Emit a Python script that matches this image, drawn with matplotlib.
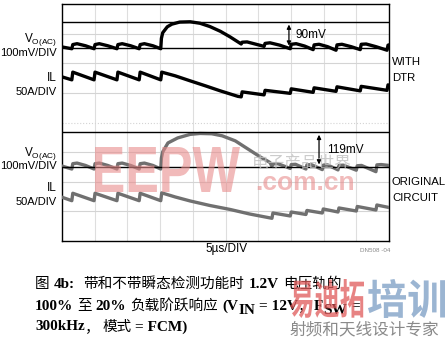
import matplotlib
matplotlib.use('Agg')
import matplotlib.pyplot as plt
from matplotlib.textpath import TextPath
from matplotlib.patches import PathPatch
from matplotlib.font_manager import FontProperties
from matplotlib.transforms import Affine2D

plt.rcParams['mathtext.fontset'] = 'custom'
plt.rcParams['mathtext.rm'] = 'Liberation Sans'

# time axis in us (5us/DIV, 10 DIV)
# Vo(AC) in mV (100mV/DIV), IL in A (50A/DIV)

# --- WITH DTR ---
vo_dtr_t = [0, 1.5, 1.65, 2.3, 3.6, 4.9, 5.05, 5.7, 7.0, 8.4, 8.55, 9.2, 10.5, 11.8, 11.95, 12.6, 13.9, 15.1,
            15.2, 15.4, 16.1, 16.8, 18.0, 19.6, 21.1, 22.6, 24.2, 25.7, 27.4,
            27.55, 28.3, 30.9, 31.05, 31.8, 33.3, 34.9, 35.05, 35.8, 37.1, 38.4, 38.55, 39.3, 40.6,
            41.9, 42.05, 42.8, 44.2, 45.6, 45.75, 46.5, 48.0, 49.7, 49.85, 50]
vo_dtr_mv = [5, -1, 13, 16, 9, -1, 13, 16, 9, -1, 13, 16, 9, -1, 13, 16, 9, -1,
             34, 53, 73, 82, 89, 90, 85, 74, 58, 39, 15,
             21, 22, 7, 17, 19, 11, -1, 14, 16, 8, -4, 12, 14, 6,
             -6, 12, 14, 6, -4, 14, 15, 6, -6, 11, 12]

il_dtr_t = [0, 1.5, 1.65, 4.9, 5.05, 8.4, 8.55, 11.8, 11.95, 15.1, 15.25,
            17.3, 19.6, 21.9, 24.2, 26.9, 27.4, 27.55, 30.9, 31.05, 34.9, 35.05,
            38.4, 38.55, 41.9, 42.05, 45.6, 45.75, 49.7, 49.85, 50]
il_dtr_a = [5, 0, 13, 0, 13, 0, 13, 0, 13, 0, 13,
            6.8, -1.7, -10, -18.6, -27.9, -28.7, -20.3, -25.4, -17.7, -22.8, -15.2,
            -21.1, -13.5, -19.4, -11.8, -18.6, -11, -17.7, -8.5, -9]

# --- ORIGINAL CIRCUIT ---
vo_org_t = [0, 1.5, 1.65, 2.3, 3.6, 4.9, 5.05, 5.7, 7.0, 8.4, 8.55, 9.2, 10.5, 11.8, 11.95, 12.6, 13.9, 15.1,
            15.2, 15.4, 16.2, 17.7, 19.6, 21.1, 22.9, 24.5, 26.5, 28.4, 30.3, 31.8,
            32.1, 32.25, 33.0, 34.9, 35.05, 35.7, 37.3, 37.45, 38.1, 39.8, 39.95, 40.6,
            42.2, 42.35, 43.0, 45.0, 45.15, 45.8, 48.0, 48.15, 48.8, 50]
vo_org_mv = [4, -6, 12, 14, 6, -6, 12, 14, 6, -6, 12, 14, 6, -6, 12, 14, 6, -6,
             31, 52, 82, 99, 111, 114, 113, 106, 89, 62, 35, 16,
             3, 11, 12, -4, 9, 10, -6, 8, 9, -8, 7, 8,
             -9, 6, 7, -10, 5, 6, -15, 8, 9, 6]

il_org_t = [0, 1.5, 1.65, 4.9, 5.05, 8.4, 8.55, 11.8, 11.95, 15.1, 15.25,
            17.3, 19.6, 22.6, 25.7, 28.7, 32.1, 32.25, 34.9, 35.05, 37.3, 37.45,
            39.8, 39.95, 42.2, 42.35, 45.0, 45.15, 48.0, 48.15, 50]
il_org_a = [4.6, -1.2, 11.3, -1.2, 11.3, -1.2, 11.3, -1.2, 11.3, -1.2, 12,
            5.1, -1.7, -9.3, -16, -23.7, -30.9, -22, -27, -20.3, -24.5, -17.7,
            -22, -15.2, -20.3, -13.5, -18.6, -11, -16.9, -8.5, -12.7]

dtr_dv = 90     # mV
org_dv = 119    # mV

# caption pieces: (text, kind, gap before in px)  kind: c=CJK, l=latin bold, s=subscript
cap_line1 = [('图', 'c', 0), ('4b:', 'l', 4), ('带和不带瞬态检测功能时', 'c', 9),
             ('1.2V', 'l', 4), ('电压轨的', 'c', 4)]
cap_line2 = [('100%', 'l', 0), ('至', 'c', 4), ('20%', 'l', 4), ('负载阶跃响应', 'c', 4),
             ('(V', 'l', 4), ('IN', 's', 0), ('= 12V', 'l', 4), ('，', 'c', 0),
             ('F', 'l', 1), ('SW', 's', 0), ('=', 'l', 5)]
cap_line3 = [('300kHz', 'l', 0), ('，', 'c', 0), ('模式', 'c', 3), ('= FCM)', 'l', 3)]

W, H = 447, 341
fig = plt.figure(figsize=(W / 100, H / 100), dpi=100)
ax = fig.add_axes([62 / W, 1 - 241 / H, 327 / W, 237 / H])
ax.set_xlim(0, 50)
ax.set_ylim(0, 8)

# screen grid
for i in range(1, 10):
    ax.axvline(i * 5, color='#dedede', lw=0.8, zorder=0)
for j in range(1, 8):
    ls = ':' if j == 4 else '-'
    ax.axhline(j, color='#d4d4d4', lw=0.8, ls=ls, zorder=0)
ax.set_xticks([])
ax.set_yticks([])
for s in ax.spines.values():
    s.set_linewidth(1.0)

# trace offsets on screen (DIV)
off_vo_dtr, off_il_dtr = 6.50, 5.44
off_vo_org, off_il_org = 2.49, 1.385

ax.plot(vo_dtr_t, [off_vo_dtr + v / 100 for v in vo_dtr_mv], color='black', lw=2.4, zorder=3)
ax.plot(il_dtr_t, [off_il_dtr + v / 50 for v in il_dtr_a], color='black', lw=2.4, zorder=3)
ax.plot(vo_org_t, [off_vo_org + v / 100 for v in vo_org_mv], color='#707070', lw=2.4, zorder=3)
ax.plot(il_org_t, [off_il_org + v / 50 for v in il_org_a], color='#707070', lw=2.4, zorder=3)

# reference lines + arrows
for y in (off_vo_dtr, off_vo_dtr + dtr_dv / 100, off_vo_org, off_vo_org + org_dv / 100):
    ax.axhline(y, color='black', lw=1.0, zorder=4)
ax.annotate('', xy=(34.7, off_vo_dtr + dtr_dv / 100), xytext=(34.7, off_vo_dtr),
            arrowprops=dict(arrowstyle='<|-|>', color='black', lw=0.9, mutation_scale=6), zorder=5)
ax.annotate('', xy=(39.3, off_vo_org + org_dv / 100), xytext=(39.3, off_vo_org),
            arrowprops=dict(arrowstyle='<|-|>', color='black', lw=0.9, mutation_scale=6), zorder=5)


def px(x, y):
    return x / W, 1 - y / H


sans = 'Liberation Sans'
fig.text(*px(296, 35), '%dmV' % dtr_dv, fontsize=8.5, family=sans, va='center')
fig.text(*px(327, 150), '%dmV' % org_dv, fontsize=8.5, family=sans, va='center')

# left labels
for yv, yi in ((40, 78), (153, 188)):
    fig.text(*px(57, yv), r'V$_{\rm O(AC)}$', fontsize=8.5, family=sans, ha='right', va='center')
    fig.text(*px(57, yv + 13), '100mV/DIV', fontsize=8, family=sans, ha='right', va='center')
    fig.text(*px(57, yi), 'IL', fontsize=8.5, family=sans, ha='right', va='center')
    fig.text(*px(57, yi + 14), '50A/DIV', fontsize=8, family=sans, ha='right', va='center')

fig.text(*px(392, 62), 'WITH', fontsize=8.2, family=sans, va='center')
fig.text(*px(392, 78), 'DTR', fontsize=8.2, family=sans, va='center')
fig.text(*px(392, 182), 'ORIGINAL', fontsize=8.2, family=sans, va='center')
fig.text(*px(392, 198), 'CIRCUIT', fontsize=8.2, family=sans, va='center')

fig.text(*px(227, 249), '5µs/DIV', fontsize=8.5, family=sans, ha='center', va='center')
fig.text(*px(375, 250), 'DN508 -04', fontsize=4.5, family=sans, ha='center', va='center', color='#888888')


# watermarks, stretched into their boxes (pixels from top-left)
def boxed_text(text, x0, x1, y0, y1, family, color, alpha, weight='bold'):
    tp = TextPath((0, 0), text, size=50, prop=FontProperties(family=family, weight=weight))
    bb = tp.get_extents()
    sx = (x1 - x0) / bb.width
    sy = (y1 - y0) / bb.height
    tr = Affine2D().translate(-bb.x0, -bb.y0).scale(sx, sy).translate(x0, H - y1)
    fig.add_artist(PathPatch(tp, transform=tr, facecolor=color, edgecolor='none',
                             alpha=alpha, zorder=10))


boxed_text('EEPW', 95, 240, 147, 192, sans, '#e88c8c', 0.6)
fig.text(*px(305, 183), '.com.cn', fontsize=19, family=sans, weight='bold', color='#e88c8c',
         alpha=0.6, ha='center', va='center', zorder=10)
fig.text(*px(302, 163), '电子产品世界', fontsize=12, family='Noto Sans CJK SC', color='#c0c0c0',
         alpha=0.8, ha='center', va='center', zorder=10)

# caption, laid out piece by piece
renderer = fig.canvas.get_renderer()


def caption_line(pieces, x, y):
    for text, kind, gap in pieces:
        x += gap
        if kind == 'c':
            t = fig.text(*px(x, y), text, fontsize=10.5, family='Noto Sans CJK SC', va='center')
        else:
            yy = y + 4 if kind == 's' else y
            t = fig.text(*px(x, yy), text, fontsize=11, family='Liberation Serif',
                         weight='bold', va='center')
        x = t.get_window_extent(renderer).x1


caption_line(cap_line1, 35, 284)
caption_line(cap_line2, 35, 306)
caption_line(cap_line3, 35, 327)

boxed_text('易迪拓', 290, 364, 279, 318, 'Noto Sans CJK SC', '#e05a5a', 0.75)
boxed_text('培训', 368, 445, 279, 318, 'Noto Sans CJK SC', '#7a9cc4', 0.75)
fig.text(*px(290, 330), '射频和天线设计专家', fontsize=12, family='Noto Sans CJK SC',
         color='#8a8a8a', va='center', zorder=10)

fig.savefig('out.png', dpi=100)
